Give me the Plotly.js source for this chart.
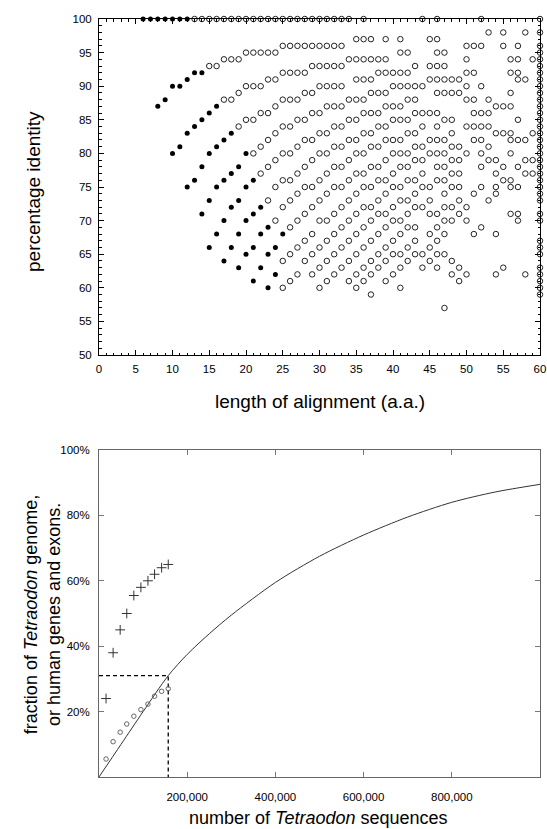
<!DOCTYPE html>
<html>
<head>
<meta charset="utf-8">
<script src="https://cdn.plot.ly/plotly-3.0.1.min.js"></script>
<style>html,body{margin:0;padding:0;background:#fff;}#chart{width:547px;height:829px;}</style>
</head>
<body>
<div id="chart"></div>
<script>
// ---------- Top panel: alignment length vs percentage identity ----------
// filled (black) dots
const lengthFilled = [6,7,8,9,10,11,12, 8,9,10,11,12,13,14, 10,11,12,13,14,15,16, 12,13,14,15,16,17,18,
  14,15,16,17,18,19,20, 15,16,17,18,19,20,21, 17,18,19,20,21,22, 19,20,21,22,23, 21,22,23,24,25, 23,24];
const identityFilled = [100,100,100,100,100,100,100, 87,88,90,90,91,92,92, 80,81,83,84,85,86,87, 75,76,78,80,81,82,83,
  71,73,75,76,77,78,80, 66,68,70,72,73,75,76, 64,66,68,70,71,72, 63,65,66,68,69, 61,63,65,66,68, 60,62];

// open dots, listed column by column (alignment length)
const lengthOpen = [
  13, 14, 15,15, 16,16, 17,17,17, 18,18,18, 19,19,19,19, 20,20,20,20, 21,21,21,21,21,
  22,22,22,22,22,22, 23,23,23,23,23,23,23, 24,24,24,24,24,24,24,24,
  25,25,25,25,25,25,25,25,25,25,
  26,26,26,26,26,26,26,26,26,26,26,
  27,27,27,27,27,27,27,27,27,27,27,
  28,28,28,28,28,28,28,28,28,28,28,
  29,29,29,29,29,29,29,29,29,29,29,29,
  30,30,30,30,30,30,30,30,30,30,30,30,30,
  31,31,31,31,31,31,31,31,31,31,31,31,31,
  32,32,32,32,32,32,32,32,32,32,32,32,32,
  33,33,33,33,33,33,33,33,33,33,33,33,33,
  34,34,34,34,34,34,34,34,34,34,34,34,
  35,35,35,35,35,35,35,35,35,35,35,35,35,35,
  36,36,36,36,36,36,36,36,36,36,36,36,36,36,36,
  37,37,37,37,37,37,37,37,37,37,37,37,37,37,37,
  38,38,38,38,38,38,38,38,38,38,38,38,38,
  39,39,39,39,39,39,39,39,39,39,39,39,39,39,39,
  40,40,40,40,40,40,40,40,40,40,40,40,40,
  41,41,41,41,41,41,41,41,41,41,41,41,41,41,41,41,
  42,42,42,42,42,42,42,42,42,42,42,42,42,42,
  43,43,43,43,43,43,43,43,43,43,43,43,43,
  44,44,44,44,44,44,44,44,44,44,44,
  45,45,45,45,45,45,45,45,45,45,45,45,
  46,46,46,46,46,46,46,46,46,46,46,46,46,46,46,46,46,
  47,47,47,47,47,47,47,47,47,47,47,47,47,47,47,
  48,48,48,48,48,48,48,48,48,48,48,48,
  49,49,49,49,49,49,49,49,49,49,
  50,50,50,50,50,50,50,50,50,50,
  51,51,51,51,51,51,51,51,
  52,52,52,52,52,52,52,52,52,52,
  53,53,53,53,53,53,53,
  54,54,54,54,54,54,54,54,
  55,55,55,55,55,55,55,
  56,56,56,56,56,56,56,56,56,56,
  57,57,57,57,57,57,57,57,57,57,
  58,58,58,58,58,58,
  59,59,59,59
];
const identityOpen = [
  100, 100, 100,93, 100,93, 100,94,88, 100,94,88, 100,94,89,84, 100,95,90,85, 100,95,90,85,80,
  100,95,90,86,81,77, 100,95,91,86,82,78,73, 100,95,91,87,83,79,75,70,
  100,96,92,88,84,80,76,72,64,60,
  100,96,92,88,84,80,76,73,69,65,61,
  100,96,92,88,85,81,77,74,70,66,62,
  100,96,92,89,85,82,78,75,71,67,64,
  100,96,93,89,86,82,79,75,72,68,65,62,
  100,96,93,90,86,83,80,76,73,70,66,63,60,
  100,96,93,90,87,83,80,77,74,70,67,64,61,
  100,96,93,90,87,84,81,78,75,71,68,65,62,
  100,96,93,90,87,84,81,78,75,72,69,66,63,
  100,94,88,85,82,79,76,73,70,67,64,61,
  97,94,91,88,85,82,80,77,74,71,68,65,62,60,
  100,97,94,91,88,86,83,80,77,75,72,69,66,63,61,
  97,94,91,89,86,83,81,78,75,72,70,67,64,62,59,
  94,92,89,86,84,81,78,76,73,71,68,65,63,
  97,94,92,89,87,84,82,79,76,74,71,69,66,64,61,
  92,90,87,85,82,80,77,75,72,70,67,65,62,
  97,95,92,90,87,85,82,80,78,75,73,70,68,65,63,60,
  95,92,90,88,85,83,80,78,76,73,71,69,66,64,
  93,90,88,86,83,81,79,76,74,72,69,67,65,
  100,90,86,84,81,79,77,75,72,65,63,
  97,93,91,86,82,80,75,73,71,68,66,64,
  100,97,95,93,91,89,86,84,82,80,78,76,71,69,67,65,63,
  95,93,91,89,85,82,80,78,76,74,72,70,68,65,57,
  91,89,85,83,81,79,77,75,72,70,64,62,
  91,89,81,79,77,75,73,71,63,61,
  96,94,92,90,88,84,80,72,70,62,
  96,92,88,86,84,82,74,68,
  100,96,90,86,84,82,80,78,75,69,
  98,88,86,84,81,79,73,
  87,83,79,77,75,74,68,62,
  98,96,87,83,78,76,63,
  94,92,89,87,83,82,80,76,75,71,
  96,94,92,91,85,82,78,75,71,70,
  98,91,82,79,77,62,
  94,83,79,77
];

// dots piled on the right-hand frame (alignment length 60)
const lengthEdge = [60,60,60,60,60,60,60,60,60,60,60,60,60,60,60,60,60,60,60,60,60,60,60,60,60,60,60,60,60,60,60,60,60,60,60,60];
const identityEdge = [100,98,96,95,94,93,92,91,90,89,88,87,86,85,84,83,82,81,80,79,78,77,76,75,74,73,71,70,67,66,65,63,62,61,60,59];

const lengthTicks = [0,5,10,15,20,25,30,35,40,45,50,55,60];
const identityTicks = [50,55,60,65,70,75,80,85,90,95,100];

// ---------- Bottom panel: coverage vs number of Tetraodon sequences ----------
const curveSequences = [0, 50000, 100000, 157000, 200000, 250000, 300000, 400000, 500000, 600000, 700000, 800000, 900000, 1000000];
const curveFraction  = [0, 10, 20, 31, 37.5, 43.8, 49.5, 59.5, 67.5, 74, 79.5, 84, 87.2, 89.5];

const sampleSequences = [16000, 32000, 48000, 63000, 79000, 95000, 111000, 126000, 142000, 157000];
const humanFraction   = [24, 38, 45, 50, 55.5, 58, 60, 62, 64, 65];
const genomeFraction  = [5.5, 10.8, 13.7, 16.2, 18.6, 20.6, 22.3, 24.7, 26.2, 27];

const guideSequences = [0, 157000, 157000];
const guideFraction  = [31, 31, 0];

const seqTickVals = [200000, 400000, 600000, 800000];
const seqTickText = ['200,000', '400,000', '600,000', '800,000'];
const fracTickVals = [20, 40, 60, 80, 100];
const fracTickText = ['20%', '40%', '60%', '80%', '100%'];

const FONT = 'Liberation Sans, Arial, Helvetica, sans-serif';

const traces = [
  {x: lengthOpen, y: identityOpen, type: 'scatter', mode: 'markers', xaxis: 'x', yaxis: 'y', cliponaxis: false,
   marker: {symbol: 'circle-open', size: 5.5, color: '#222', line: {width: 1, color: '#222'}}},
  {x: lengthEdge, y: identityEdge, type: 'scatter', mode: 'markers', xaxis: 'x', yaxis: 'y', cliponaxis: false,
   marker: {symbol: 'circle-open', size: 5.5, color: '#222', line: {width: 1, color: '#222'}}},
  {x: lengthFilled, y: identityFilled, type: 'scatter', mode: 'markers', xaxis: 'x', yaxis: 'y', cliponaxis: false,
   marker: {symbol: 'circle', size: 5, color: '#000'}},
  {x: curveSequences, y: curveFraction, type: 'scatter', mode: 'lines', xaxis: 'x2', yaxis: 'y2',
   line: {color: '#333', width: 1, shape: 'spline', smoothing: 0.8}},
  {x: guideSequences, y: guideFraction, type: 'scatter', mode: 'lines', xaxis: 'x2', yaxis: 'y2',
   line: {color: '#000', width: 1.3, dash: '4px,3px'}},
  {x: sampleSequences, y: humanFraction, type: 'scatter', mode: 'markers', xaxis: 'x2', yaxis: 'y2',
   marker: {symbol: 'cross-thin-open', size: 7, color: '#333', line: {width: 1, color: '#333'}}},
  {x: sampleSequences, y: genomeFraction, type: 'scatter', mode: 'markers', xaxis: 'x2', yaxis: 'y2',
   marker: {symbol: 'circle-open', size: 4.5, color: '#666', line: {width: 1, color: '#666'}}}
];

const axisCommon = {showgrid: false, zeroline: false, showline: true, mirror: 'ticks', ticks: 'inside',
  tickwidth: 1, tickfont: {family: FONT, size: 11.5, color: '#000'}};

const layout = {
  width: 547, height: 829,
  margin: {l: 99, r: 7, t: 19, b: 52},
  paper_bgcolor: '#fff', plot_bgcolor: '#fff',
  showlegend: false,
  font: {family: FONT, color: '#000'},
  xaxis: Object.assign({}, axisCommon, {domain: [0, 1], anchor: 'y', range: [0, 60], tickvals: lengthTicks,
    ticklen: 5, tickcolor: '#000', linecolor: '#000', linewidth: 1, ticklabelstandoff: 3,
    minor: {ticks: 'inside', ticklen: 2.5, dtick: 1, tickcolor: '#000', tickwidth: 1}}),
  yaxis: Object.assign({}, axisCommon, {domain: [0.5567, 1], anchor: 'x', range: [50, 100], tickvals: identityTicks,
    ticklen: 5, tickcolor: '#000', linecolor: '#000', linewidth: 1, ticklabelstandoff: 4,
    minor: {ticks: 'inside', ticklen: 2.5, dtick: 1, tickcolor: '#000', tickwidth: 1}}),
  xaxis2: Object.assign({}, axisCommon, {domain: [0, 1], anchor: 'y2', range: [0, 1000000],
    tickvals: seqTickVals, ticktext: seqTickText, ticklen: 5, tickcolor: '#777', linecolor: '#666', linewidth: 1,
    ticklabelstandoff: 9}),
  yaxis2: Object.assign({}, axisCommon, {domain: [0, 0.4314], anchor: 'x2', range: [0, 100],
    tickvals: fracTickVals, ticktext: fracTickText, ticklen: 5, tickcolor: '#777', linecolor: '#666', linewidth: 1,
    ticklabelstandoff: 6}),
  annotations: [
    {text: 'percentage identity', xref: 'paper', yref: 'paper', x: -0.147, y: 0.772, showarrow: false,
     textangle: -90, xanchor: 'center', yanchor: 'middle', font: {family: FONT, size: 19, color: '#000'}},
    {text: 'length of alignment (a.a.)', xref: 'paper', yref: 'paper', x: 0.5, y: 0.496, showarrow: false,
     xanchor: 'center', yanchor: 'middle', font: {family: FONT, size: 19, color: '#000'}},
    {text: 'fraction of <i>Tetraodon</i> genome,<br>or human genes and exons.', xref: 'paper', yref: 'paper',
     x: -0.129, y: 0.215, showarrow: false, textangle: -90, xanchor: 'center', yanchor: 'middle',
     font: {family: FONT, size: 18, color: '#000'}},
    {text: 'number of <i>Tetraodon</i> sequences', xref: 'paper', yref: 'paper', x: 0.497, y: -0.054,
     showarrow: false, xanchor: 'center', yanchor: 'middle', font: {family: FONT, size: 18, color: '#000'}}
  ]
};

Plotly.newPlot('chart', traces, layout, {staticPlot: true, displayModeBar: false});
</script>
</body>
</html>
